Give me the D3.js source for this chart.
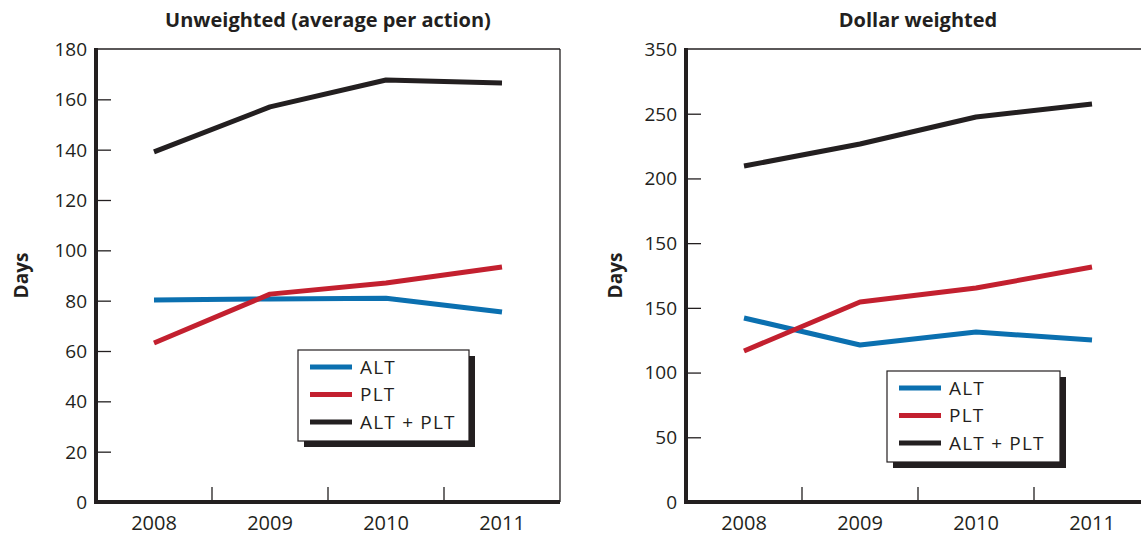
<!DOCTYPE html>
<html>
<head>
<meta charset="utf-8">
<script src="https://cdn.jsdelivr.net/npm/d3@7"></script>
<style>
  body { margin: 0; background: #fff; }
  svg { display: block; font-family: "Open Sans", "Noto Sans", sans-serif; }
</style>
</head>
<body>
<svg id="chart" width="1141" height="535"></svg>
<script>
// Fiscal years on the x axis
const years = ["2008", "2009", "2010", "2011"];

// Unweighted (average per action), days
const unweightedALT = [80.3, 80.7, 81.0, 75.5];
const unweightedPLT = [63.2, 82.6, 87.0, 93.4];
const unweightedTotal = [139.1, 157.0, 167.7, 166.5];
const unweightedTicks = [0, 20, 40, 60, 80, 100, 120, 140, 160, 180];
const unweightedTickLabels = ["0", "20", "40", "60", "80", "100", "120", "140", "160", "180"];

// Dollar weighted, days
const weightedALT = [142.2, 121.3, 131.3, 125.2];
const weightedPLT = [116.7, 154.5, 165.3, 181.6];
const weightedTotal = [259.6, 276.6, 297.5, 307.5];
const weightedTicks = [0, 50, 100, 150, 200, 250, 300, 350];
const weightedTickLabels = ["0", "50", "100", "150", "150", "200", "250", "350"];

const seriesNames = ["ALT", "PLT", "ALT + PLT"];
const seriesColors = ["#0b70b0", "#c3202f", "#231f20"];

const ink = "#231f20";
const svg = d3.select("#chart");

function panel(opts) {
  const { left, right, top, bottom, title, yMax, ticks, tickLabels, series, legend, daysX } = opts;
  const g = svg.append("g");

  const x = d3.scaleBand().domain(years).range([left, right]).paddingInner(0).paddingOuter(0);
  const y = d3.scaleLinear().domain([0, yMax]).range([bottom, top]);

  // thin frame on top and right
  g.append("line").attr("x1", left).attr("x2", right).attr("y1", top).attr("y2", top)
    .attr("stroke", ink).attr("stroke-width", 1.3);
  g.append("line").attr("x1", right).attr("x2", right).attr("y1", top).attr("y2", bottom)
    .attr("stroke", ink).attr("stroke-width", 1.3);

  // y axis: inward ticks
  const yAxis = d3.axisRight(y).tickValues(ticks.filter(t => t !== yMax)).tickSize(15).tickFormat("");
  const ya = g.append("g").attr("transform", `translate(${left},0)`).call(yAxis);
  ya.select(".domain").remove();
  ya.selectAll(".tick line").attr("stroke", ink).attr("stroke-width", 1.3);

  // y tick labels
  g.selectAll(".ylab").data(ticks).enter().append("text")
    .attr("x", left - 9).attr("y", d => y(d)).attr("dy", "0.36em")
    .attr("text-anchor", "end").attr("font-size", 19).attr("fill", ink)
    .text((d, i) => tickLabels[i]);

  // x axis: inward ticks at category boundaries
  const bounds = years.slice(1).map(yr => x(yr));
  g.selectAll(".xtick").data(bounds).enter().append("line")
    .attr("x1", d => d).attr("x2", d => d).attr("y1", bottom).attr("y2", bottom - 15)
    .attr("stroke", ink).attr("stroke-width", 1.3);
  g.selectAll(".xlab").data(years).enter().append("text")
    .attr("x", d => x(d) + x.bandwidth() / 2).attr("y", bottom + 28)
    .attr("text-anchor", "middle").attr("font-size", 20)
    .attr("fill", ink).text(d => d);

  // heavy left and bottom axis lines
  g.append("line").attr("x1", left).attr("x2", left).attr("y1", top - 1).attr("y2", bottom + 2)
    .attr("stroke", ink).attr("stroke-width", 4);
  g.append("line").attr("x1", left).attr("x2", right).attr("y1", bottom).attr("y2", bottom)
    .attr("stroke", ink).attr("stroke-width", 4);

  // title and y label
  g.append("text").attr("x", (left + right) / 2).attr("y", 27).attr("text-anchor", "middle")
    .attr("font-size", 20).attr("font-weight", "bold").attr("fill", ink).text(title);
  g.append("text").attr("transform", `translate(${daysX},${(top + bottom) / 2}) rotate(-90)`)
    .attr("text-anchor", "middle").attr("font-size", 19).attr("font-weight", "bold").attr("fill", ink)
    .text("Days");

  // series lines
  const line = d3.line().x((d, i) => x(years[i]) + x.bandwidth() / 2).y(d => y(d));
  series.forEach((vals, i) => {
    g.append("path").datum(vals).attr("d", line).attr("fill", "none")
      .attr("stroke", seriesColors[i]).attr("stroke-width", 5).attr("stroke-linejoin", "round");
  });

  // legend with drop shadow
  const lg = g.append("g").attr("transform", `translate(${legend.x},${legend.y})`);
  lg.append("rect").attr("x", 6).attr("y", 6).attr("width", legend.w).attr("height", legend.h).attr("fill", ink);
  lg.append("rect").attr("x", 0).attr("y", 0).attr("width", legend.w).attr("height", legend.h)
    .attr("fill", "#fff").attr("stroke", ink).attr("stroke-width", 1.2);
  seriesNames.forEach((name, i) => {
    const yy = 17 + i * 27.5;
    lg.append("line").attr("x1", 12).attr("x2", 54).attr("y1", yy).attr("y2", yy)
      .attr("stroke", seriesColors[i]).attr("stroke-width", 5);
    lg.append("text").attr("x", 62).attr("y", yy).attr("dy", "0.36em")
      .attr("font-size", 19).attr("letter-spacing", 1.2).attr("fill", ink).text(name);
  });
}

panel({
  left: 96, right: 560, top: 49, bottom: 502,
  title: "Unweighted (average per action)", yMax: 180,
  ticks: unweightedTicks, tickLabels: unweightedTickLabels,
  series: [unweightedALT, unweightedPLT, unweightedTotal],
  legend: { x: 298, y: 350, w: 171, h: 91 }, daysX: 28
});

panel({
  left: 686, right: 1150, top: 49, bottom: 502,
  title: "Dollar weighted", yMax: 350,
  ticks: weightedTicks, tickLabels: weightedTickLabels,
  series: [weightedALT, weightedPLT, weightedTotal],
  legend: { x: 887, y: 371, w: 173, h: 91 }, daysX: 622
});
</script>
</body>
</html>
